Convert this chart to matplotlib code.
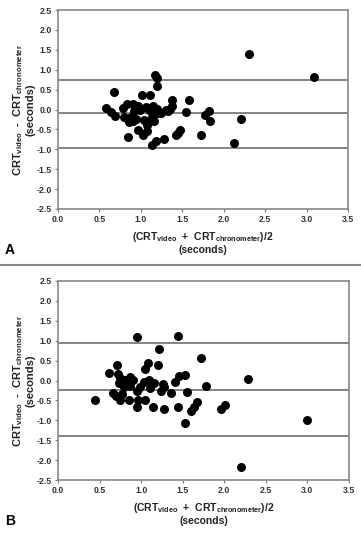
import numpy as np
import matplotlib.pyplot as plt
from matplotlib.lines import Line2D

plt.rcParams['font.family'] = ['Liberation Sans', 'DejaVu Sans']
plt.rcParams['mathtext.fontset'] = 'custom'
plt.rcParams['mathtext.rm'] = 'Liberation Sans:bold'
plt.rcParams['mathtext.bf'] = 'Liberation Sans:bold'

# Panel A : moyenne et différence
moyA = [0.58, 0.64, 0.68, 0.69, 0.78, 0.80, 0.83, 0.84, 0.85, 0.86, 0.88, 0.90,
        0.91, 0.92, 0.93, 0.94, 0.96, 0.97, 0.99, 1.01, 1.03, 1.04, 1.06, 1.07,
        1.08, 1.09, 1.10, 1.11, 1.13, 1.14, 1.15, 1.16, 1.17, 1.17, 1.18, 1.19,
        1.20, 1.20, 1.21, 1.24, 1.28, 1.30, 1.33, 1.35, 1.37, 1.38, 1.43, 1.45,
        1.47, 1.54, 1.58, 1.72, 1.78, 1.82, 1.84, 2.12, 2.21, 2.31, 3.09]
diffA = [0.05, -0.07, 0.45, -0.17, 0.05, -0.18, 0.13, -0.25, -0.69, -0.32, -0.20, -0.28,
         0.15, -0.05, 0.02, -0.24, 0.08, -0.52, -0.02, 0.37, -0.63, -0.27, 0.06, -0.40,
         -0.55, -0.33, 0.00, 0.37, -0.20, -0.89, 0.08, -0.30, 0.86, -0.05, -0.78, 0.02,
         0.80, 0.60, -0.10, -0.10, -0.74, -0.02, -0.05, 0.02, 0.08, 0.25, -0.65, -0.58,
         -0.52, -0.06, 0.25, -0.63, -0.15, -0.05, -0.29, -0.85, -0.23, 1.39, 0.82]
limitesA = [0.75, -0.10, -0.96]

# Panel B
moyB = [0.45, 0.61, 0.66, 0.71, 0.70, 0.72, 0.73, 0.74, 0.75, 0.77, 0.79, 0.81,
        0.85, 0.86, 0.87, 0.90, 0.95, 0.95, 0.95, 0.96, 0.99, 1.03, 1.05, 1.05,
        1.08, 1.10, 1.11, 1.14, 1.15, 1.20, 1.21, 1.24, 1.26, 1.27, 1.28, 1.36,
        1.41, 1.44, 1.44, 1.45, 1.53, 1.55, 1.53, 1.60, 1.63, 1.67, 1.72, 1.78,
        1.96, 2.01, 2.20, 2.29, 3.00]
diffB = [-0.49, 0.19, -0.31, 0.38, -0.39, 0.16, -0.06, -0.49, 0.07, -0.33, -0.16, 0.01,
         -0.49, 0.09, -0.14, 0.01, -0.26, 1.10, -0.66, -0.49, -0.16, -0.04, -0.49, 0.29,
         0.43, 0.01, -0.20, -0.66, -0.07, 0.38, 0.79, -0.26, -0.09, -0.71, -0.16, -0.31,
         -0.03, -0.66, 1.13, 0.11, 0.13, -0.29, -1.06, -0.76, -0.66, -0.53, 0.57, -0.14,
         -0.71, -0.61, -2.18, 0.04, -0.98]
limitesB = [0.93, -0.23, -1.39]

xticks = np.arange(0, 3.51, 0.5)
yticks = np.arange(-2.5, 2.51, 0.5)

fig = plt.figure(figsize=(3.61, 5.33), dpi=100)
axA = fig.add_axes([58/361, 1-209/533, 290/361, 199/533])
axB = fig.add_axes([58/361, 1-480/533, 291/361, 199/533])

for ax, x, y, lim in [(axA, moyA, diffA, limitesA), (axB, moyB, diffB, limitesB)]:
    for l in lim:
        ax.axhline(l, color='#6e6e6e', lw=1.2, zorder=1)
    ax.scatter(x, y, s=42, color='black', zorder=3, linewidths=0)
    ax.set_xlim(0, 3.5)
    ax.set_ylim(-2.5, 2.5)
    ax.set_xticks(xticks)
    ax.set_yticks(yticks)
    ax.set_xticklabels(['%.1f' % v for v in xticks])
    ax.set_yticklabels(['%.1f' % v for v in yticks])
    ax.tick_params(labelsize=6.3, length=2.5, width=0.8, color='#777777',
                   labelcolor='#333333', pad=2)
    for lab in ax.get_xticklabels() + ax.get_yticklabels():
        lab.set_fontweight('bold')
    for s in ax.spines.values():
        s.set_color('#888888')
        s.set_linewidth(1.2)
    ax.set_xlabel(r'(CRT$_{\mathrm{video}}$  +  CRT$_{\mathrm{chronometer}}$)/2' + '\n(seconds)',
                  fontsize=7.5, fontweight='bold', color='#222222', labelpad=4,
                  linespacing=1.1)
    ax.set_ylabel(r'CRT$_{\mathrm{video}}$  -  CRT$_{\mathrm{chronometer}}$' + '\n(seconds)',
                  fontsize=8, fontweight='bold', color='#222222', labelpad=1,
                  linespacing=1.05)

fig.text(5/361, 1-250/533, 'A', fontsize=10, fontweight='bold', va='center', ha='left')
fig.text(5/361, 1-521/533, 'B', fontsize=10, fontweight='bold', va='center', ha='left')
fig.add_artist(Line2D([0, 1], [1-265/533, 1-265/533], color='#888888', lw=1.5,
                      transform=fig.transFigure))

fig.savefig('out.png', dpi=100)
